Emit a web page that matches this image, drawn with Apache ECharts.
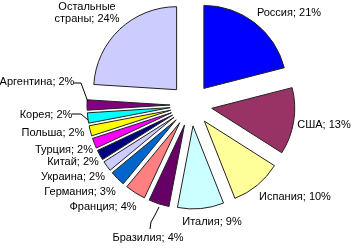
<!DOCTYPE html>
<html><head><meta charset="utf-8">
<script src="https://cdn.jsdelivr.net/npm/echarts@6/dist/echarts.min.js"></script>
<style>html,body{margin:0;padding:0;background:#fff}#c{width:351px;height:250px}</style>
</head><body><div id="c"></div>
<script>
var categories = ['Россия','США','Испания','Италия','Бразилия','Франция','Германия','Украина','Китай','Турция','Польша','Корея','Аргентина','Остальные страны'];
var values = [21,13,10,9,4,4,3,2,2,2,2,2,2,24];
var colors = ['#0000FF','#993366','#FFFF99','#CCFFFF','#660066','#FF8080','#0066CC','#CCCCFF','#000080','#FF00FF','#FFFF00','#00FFFF','#800080','#CCCCFF'];
var labelPos = [[289,13],[324,125],[295,197],[212,222],[148,238],[103,207],[80,192],[73,177],[73,162],[64,150],[53,133],[46,115],[37,82],[87,13]];
var leaderLines = [
  [[74,83],[81,83],[88,102]],
  [[72,114],[81,114],[88,120]],
  [[150,229],[151,222],[155,215],[159,207]]
];

var chart = echarts.init(document.getElementById('c'), null, {renderer:'canvas'});
var data = categories.map(function(n,i){
  return {
    name: n, value: values[i], selected: true,
    itemStyle: {color: colors[i]},
    select: {itemStyle: {color: colors[i], borderColor:'#222', borderWidth:1}}
  };
});
var graphics = categories.map(function(n,i){
  return {
    type: 'text', x: labelPos[i][0], y: labelPos[i][1], silent: true, z: 10,
    style: {
      text: n.replace(' ', '\n') + '; ' + values[i] + '%',
      fill: '#000', font: '11px "Liberation Sans", Arial, sans-serif',
      align: 'center', verticalAlign: 'middle', lineHeight: 12
    }
  };
});
leaderLines.forEach(function(pts){
  graphics.push({type:'polyline', silent:true, z:10, shape:{points: pts}, style:{stroke:'#000', lineWidth:1, fill:null}});
});
chart.setOption({
  animation: false,
  graphic: graphics,
  series: [{
    type: 'pie',
    center: [191,105],
    radius: [0,83],
    startAngle: 90,
    clockwise: true,
    selectedMode: 'multiple',
    selectedOffset: 21,
    itemStyle: {borderColor:'#222', borderWidth:1},
    emphasis: {disabled: true},
    label: {show: false},
    labelLine: {show: false},
    data: data
  }]
});
</script></body></html>
